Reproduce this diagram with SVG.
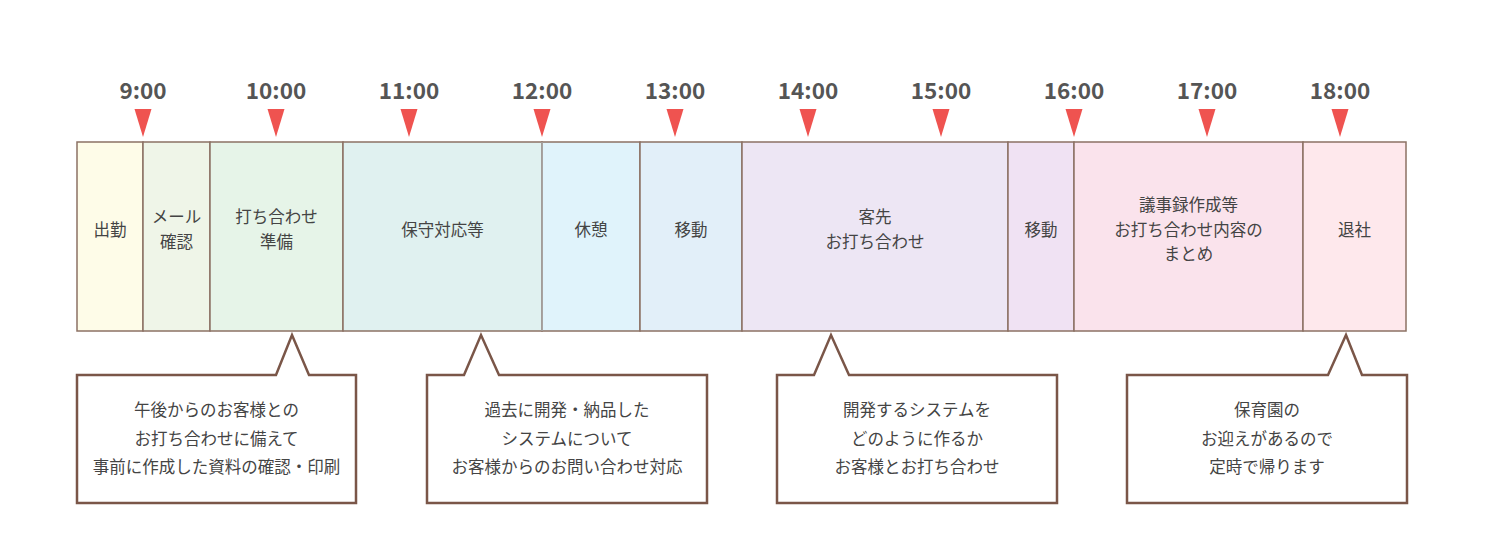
<svg xmlns="http://www.w3.org/2000/svg" width="1500" height="550" viewBox="0 0 1500 550">
<style>
.t{font-family:"Noto Sans CJK JP","Noto Sans",sans-serif;font-size:22.5px;font-weight:bold;fill:#555;text-anchor:middle}
.l{font-family:"Noto Sans CJK JP","Noto Sans",sans-serif;font-size:16.5px;fill:#444;text-anchor:middle}
.seg{stroke:#8c7264;stroke-width:1.5}
.tri{fill:#ef5350}
.co{fill:#fff;stroke:#7a5648;stroke-width:2.5;stroke-linejoin:miter}
</style>
<defs>
<path id="tri" class="tri" d="M-8.5,109 L8.5,109 L0,137 Z"/>
</defs>
<rect width="1500" height="550" fill="#fff"/>
<g id="times">
<text class="t" x="143" y="99">9:00</text>
<text class="t" x="276" y="99">10:00</text>
<text class="t" x="409" y="99">11:00</text>
<text class="t" x="542" y="99">12:00</text>
<text class="t" x="675" y="99">13:00</text>
<text class="t" x="808" y="99">14:00</text>
<text class="t" x="941" y="99">15:00</text>
<text class="t" x="1074" y="99">16:00</text>
<text class="t" x="1207" y="99">17:00</text>
<text class="t" x="1340" y="99">18:00</text>
</g>
<g id="markers">
<use href="#tri" x="143"/>
<use href="#tri" x="276"/>
<use href="#tri" x="409"/>
<use href="#tri" x="542"/>
<use href="#tri" x="675"/>
<use href="#tri" x="808"/>
<use href="#tri" x="941"/>
<use href="#tri" x="1074"/>
<use href="#tri" x="1207"/>
<use href="#tri" x="1340"/>
</g>
<g id="seg-shukkin"><rect class="seg" x="77" y="142" width="66" height="189" fill="#fefce8"/><text class="l" x="110" y="236">出勤</text></g>
<g id="seg-mail"><rect class="seg" x="143" y="142" width="67" height="189" fill="#eff5e8"/><text class="l" x="176.5" y="223">メール</text><text class="l" x="176.5" y="248">確認</text></g>
<g id="seg-prep"><rect class="seg" x="210" y="142" width="133" height="189" fill="#e6f4e8"/><text class="l" x="276.5" y="223">打ち合わせ</text><text class="l" x="276.5" y="248">準備</text></g>
<g id="seg-hoshu"><rect class="seg" x="343" y="142" width="199" height="189" fill="#e0f1f0"/><text class="l" x="442.5" y="236">保守対応等</text></g>
<g id="seg-kyukei"><rect class="seg" x="542" y="142" width="98" height="189" fill="#e0f3fb"/><line x1="542" y1="142" x2="542" y2="331" stroke="#aaa" stroke-width="1.5"/><text class="l" x="591" y="236">休憩</text></g>
<g id="seg-idou1"><rect class="seg" x="640" y="142" width="102" height="189" fill="#e2eff9"/><text class="l" x="691" y="236">移動</text></g>
<g id="seg-kyakusaki"><rect class="seg" x="742" y="142" width="266" height="189" fill="#ede6f4"/><text class="l" x="875" y="223">客先</text><text class="l" x="875" y="248">お打ち合わせ</text></g>
<g id="seg-idou2"><rect class="seg" x="1008" y="142" width="66" height="189" fill="#f0e2f3"/><text class="l" x="1041" y="236">移動</text></g>
<g id="seg-gijiroku"><rect class="seg" x="1074" y="142" width="229" height="189" fill="#fae3ec"/><text class="l" x="1188.5" y="211">議事録作成等</text><text class="l" x="1188.5" y="236">お打ち合わせ内容の</text><text class="l" x="1188.5" y="260">まとめ</text></g>
<g id="seg-taisha"><rect class="seg" x="1303" y="142" width="103" height="189" fill="#fee8ec"/><text class="l" x="1354.5" y="236">退社</text></g>
<g id="callout-1"><path class="co" d="M77,375 L276,375 L292,335 L309,375 L356,375 L356,503 L77,503 Z"/><text class="l" x="216.5" y="416">午後からのお客様との</text><text class="l" x="216.5" y="444.5">お打ち合わせに備えて</text><text class="l" x="216.5" y="473">事前に作成した資料の確認・印刷</text></g>
<g id="callout-2"><path class="co" d="M427,375 L464,375 L481,335 L499,375 L707,375 L707,503 L427,503 Z"/><text class="l" x="567" y="416">過去に開発・納品した</text><text class="l" x="567" y="444.5">システムについて</text><text class="l" x="567" y="473">お客様からのお問い合わせ対応</text></g>
<g id="callout-3"><path class="co" d="M777,375 L814,375 L831,335 L849,375 L1057,375 L1057,503 L777,503 Z"/><text class="l" x="917" y="416">開発するシステムを</text><text class="l" x="917" y="444.5">どのように作るか</text><text class="l" x="917" y="473">お客様とお打ち合わせ</text></g>
<g id="callout-4"><path class="co" d="M1127,375 L1328,375 L1346,335 L1362,375 L1407,375 L1407,503 L1127,503 Z"/><text class="l" x="1267" y="416">保育園の</text><text class="l" x="1267" y="444.5">お迎えがあるので</text><text class="l" x="1267" y="473">定時で帰ります</text></g>
</svg>
